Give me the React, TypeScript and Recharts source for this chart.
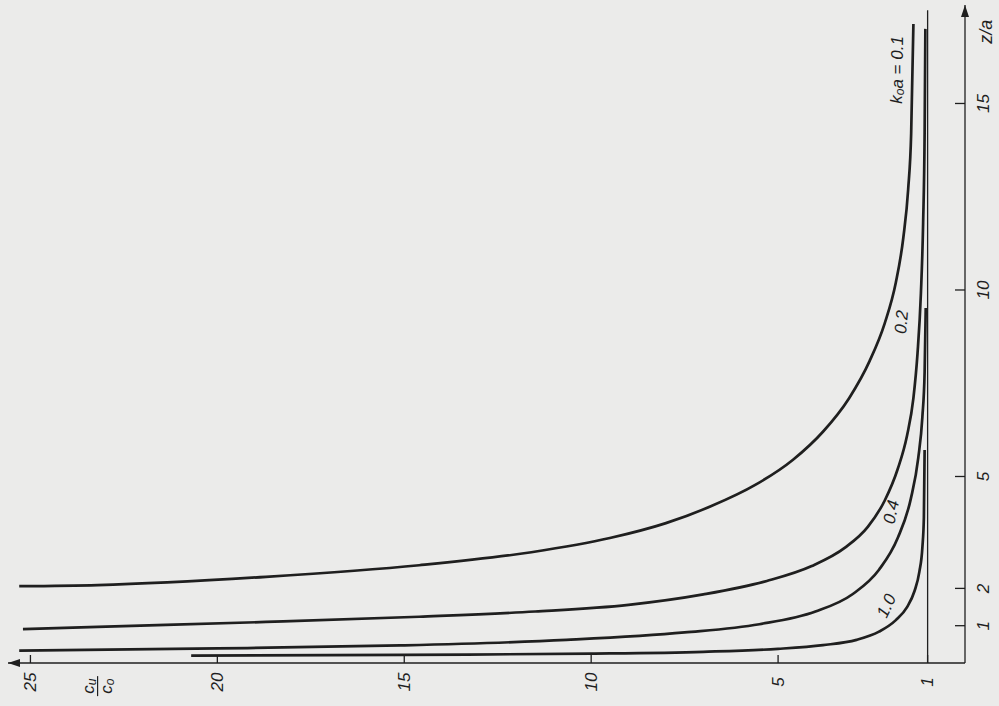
import React from 'react';
import { LineChart, Line, XAxis, YAxis, ReferenceLine, ReferenceDot } from 'recharts';

// c_u / c_0 (x) against z / a (y), one pair of arrays per k0a value
const c01 = [25.3, 23.2, 18.7, 14.6, 11.6, 9.5, 8.0, 6.8, 5.6, 4.6, 3.8, 3.1, 2.55, 2.15, 1.85, 1.65, 1.52, 1.44, 1.38];
const z01 = [2.06, 2.09, 2.31, 2.62, 2.97, 3.35, 3.75, 4.2, 4.78, 5.45, 6.2, 7.1, 8.1, 9.1, 10.2, 11.4, 12.7, 14.2, 17.13];

const c02 = [25.2, 23.2, 18.7, 14.6, 11.5, 9.0, 7.0, 5.3, 4.1, 3.2, 2.6, 2.15, 1.8, 1.55, 1.38, 1.27, 1.18, 1.12, 1.08, 1.06];
const z02 = [0.91, 0.97, 1.1, 1.24, 1.38, 1.56, 1.84, 2.2, 2.6, 3.1, 3.65, 4.35, 5.2, 6.1, 7.1, 8.3, 9.9, 11.8, 14.2, 17.0];

const c04 = [25.3, 20, 15.1, 10.66, 7.5, 5.5, 4.0, 3.0, 2.3, 1.8, 1.45, 1.25, 1.14, 1.08, 1.05];
const z04 = [0.33, 0.39, 0.47, 0.62, 0.82, 1.04, 1.38, 1.85, 2.5, 3.35, 4.4, 5.5, 6.6, 7.8, 9.52];

const c10 = [20.7, 15, 10, 7, 5, 3.8, 2.9, 2.3, 1.85, 1.55, 1.35, 1.22, 1.14, 1.1, 1.08];
const z10 = [0.2, 0.22, 0.25, 0.3, 0.38, 0.48, 0.62, 0.84, 1.15, 1.5, 1.93, 2.45, 3.1, 3.9, 5.71];

const xTicks = [25, 20, 15, 10, 5, 1];
const zTicks = [1, 2, 5, 10, 15];

const xMax = 25.6;
const zMax = 17.64;

const ink = '#1f1f1f';
const font = '"Liberation Sans", Arial, sans-serif';

const toRows = (cs: number[], zs: number[]) => cs.map((c, i) => ({ c, z: zs[i] }));

const curves = [
  { name: '0.1', data: toRows(c01, z01) },
  { name: '0.2', data: toRows(c02, z02) },
  { name: '0.4', data: toRows(c04, z04) },
  { name: '1.0', data: toRows(c10, z10) },
];

const XTick = (props: any) => {
  const { x, y, payload } = props;
  const ty = y + 19;
  return (
    <g>
      <line x1={x} y1={y} x2={x} y2={y - 8} stroke={ink} strokeWidth={1.3} />
      <text
        x={x}
        y={ty}
        transform={`rotate(-90 ${x} ${ty})`}
        textAnchor="middle"
        dominantBaseline="central"
        fontFamily={font}
        fontStyle="italic"
        fontSize={17}
        fill={ink}
      >
        {payload.value}
      </text>
    </g>
  );
};

const ZTick = (props: any) => {
  const { x, y, payload } = props;
  const tx = x + 19;
  return (
    <g>
      <line x1={x} y1={y} x2={x - 10} y2={y} stroke={ink} strokeWidth={1.3} />
      <text
        x={tx}
        y={y}
        transform={`rotate(-90 ${tx} ${y})`}
        textAnchor="middle"
        dominantBaseline="central"
        fontFamily={font}
        fontStyle="italic"
        fontSize={17}
        fill={ink}
      >
        {payload.value}
      </text>
    </g>
  );
};

// rotated text placed through the chart scales
const rotatedLabel = (content: React.ReactNode, angle: number, size = 17) => (p: any) => (
  <text
    x={p.cx}
    y={p.cy}
    transform={`rotate(${angle} ${p.cx} ${p.cy})`}
    textAnchor="middle"
    dominantBaseline="central"
    fontFamily={font}
    fontStyle="italic"
    fontSize={size}
    fill={ink}
  >
    {content}
  </text>
);

const leftArrow = (p: any) => (
  <polygon points={`${p.cx},${p.cy} ${p.cx + 12},${p.cy - 4} ${p.cx + 12},${p.cy + 4}`} fill={ink} />
);

const upArrow = (p: any) => (
  <polygon points={`${p.cx},${p.cy} ${p.cx - 4},${p.cy + 12} ${p.cx + 4},${p.cy + 12}`} fill={ink} />
);

const fractionLabel = (p: any) => (
  <g transform={`translate(${p.cx} ${p.cy}) rotate(-90)`} fontFamily={font} fontStyle="italic" fill={ink}>
    <text x={0} y={-3} textAnchor="middle" fontSize={17}>
      c<tspan fontSize={12} dy={2}>u</tspan>
    </text>
    <line x1={-10} y1={1} x2={10} y2={1} stroke={ink} strokeWidth={1.2} />
    <text x={0} y={15} textAnchor="middle" fontSize={17}>
      c<tspan fontSize={12} dy={2}>o</tspan>
    </text>
  </g>
);

export default function App() {
  return (
    <div style={{ position: 'absolute', left: 0, top: 0, width: 999, height: 706, background: '#ebebea' }}>
      <LineChart width={999} height={706} margin={{ top: 5, right: 0, bottom: 0, left: 8 }}>
        <XAxis
          type="number"
          dataKey="c"
          domain={[0, xMax]}
          reversed
          allowDataOverflow
          ticks={xTicks}
          interval={0}
          height={43}
          tickSize={0}
          tickMargin={0}
          tickLine={false}
          axisLine={{ stroke: ink, strokeWidth: 1.3 }}
          tick={<XTick />}
        />
        <YAxis
          type="number"
          orientation="right"
          domain={[0, zMax]}
          allowDataOverflow
          ticks={zTicks}
          interval={0}
          width={34}
          tickSize={0}
          tickMargin={0}
          tickLine={false}
          axisLine={{ stroke: ink, strokeWidth: 1.3 }}
          tick={<ZTick />}
        />
        <ReferenceLine
          segment={[{ x: 1, y: 0 }, { x: 1, y: 17.5 }]}
          stroke={ink}
          strokeWidth={1.3}
          ifOverflow="visible"
        />
        {curves.map((s) => (
          <Line
            key={s.name}
            data={s.data}
            dataKey="z"
            type="monotone"
            stroke={ink}
            strokeWidth={2.7}
            dot={false}
            activeDot={false}
            isAnimationActive={false}
          />
        ))}
        <ReferenceDot x={xMax} y={0} r={0} ifOverflow="visible" shape={leftArrow} />
        <ReferenceDot x={0} y={zMax} r={0} ifOverflow="visible" shape={upArrow} />
        <ReferenceDot
          x={1.83}
          y={15.9}
          r={0}
          ifOverflow="visible"
          shape={rotatedLabel(
            <>
              k<tspan fontSize={12} dy={3}>o</tspan>
              <tspan dy={-3}>a = 0.1</tspan>
            </>,
            -90
          )}
        />
        <ReferenceDot x={1.7} y={9.14} r={0} ifOverflow="visible" shape={rotatedLabel('0.2', -85)} />
        <ReferenceDot x={1.97} y={4.05} r={0} ifOverflow="visible" shape={rotatedLabel('0.4', -78)} />
        <ReferenceDot x={2.1} y={1.53} r={0} ifOverflow="visible" shape={rotatedLabel('1.0', -65)} />
        <ReferenceDot x={-0.55} y={16.92} r={0} ifOverflow="visible" shape={rotatedLabel('z/a', -90, 18)} />
        <ReferenceDot x={23.23} y={-0.62} r={0} ifOverflow="visible" shape={fractionLabel} />
      </LineChart>
    </div>
  );
}
